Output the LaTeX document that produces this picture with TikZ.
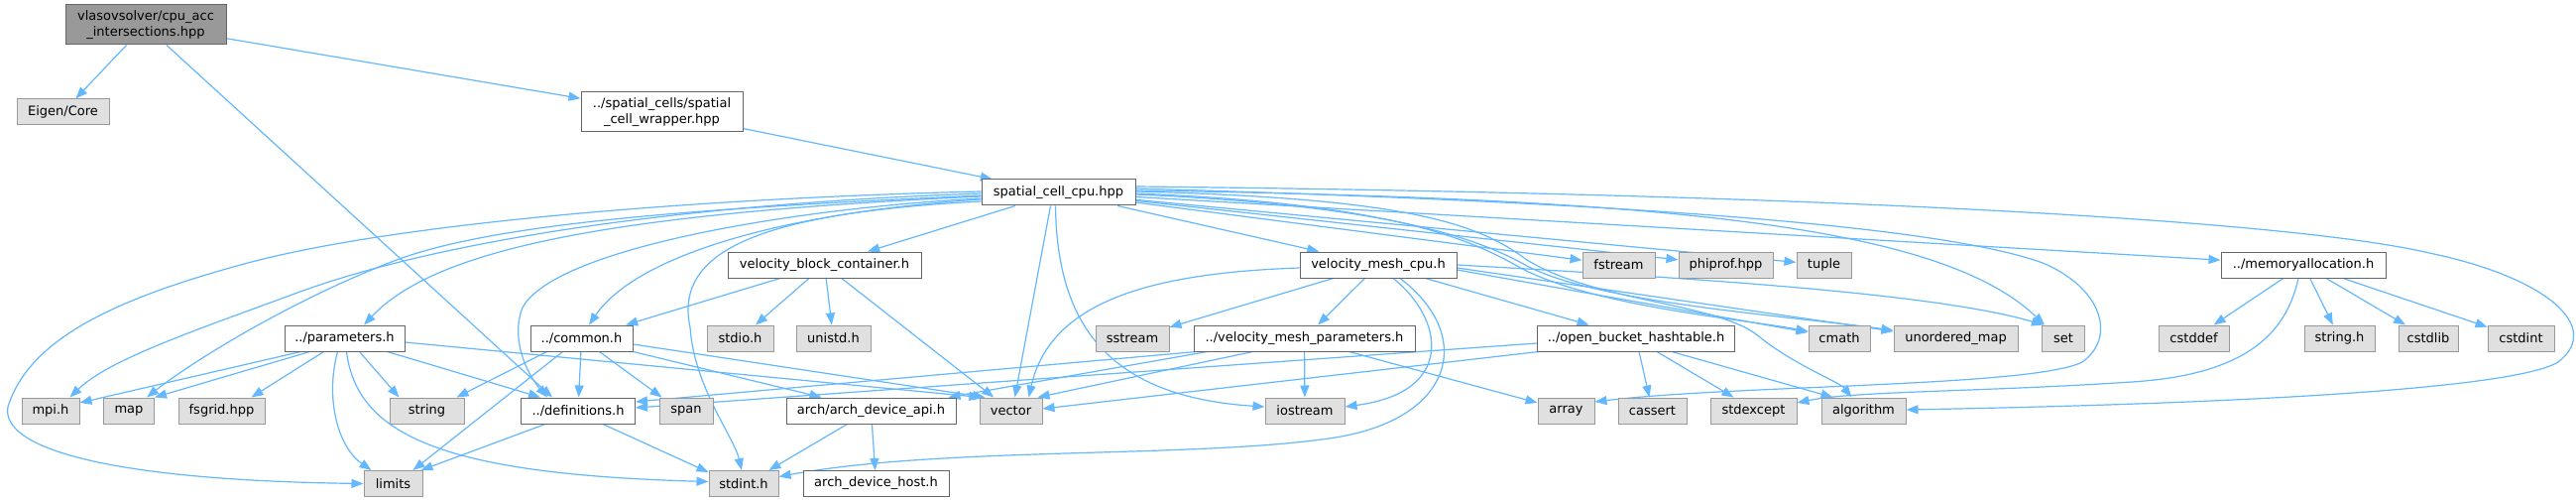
\documentclass[tikz,border=0pt]{standalone}
\usepackage{fontspec}
\setmainfont{DejaVu Sans}
\usetikzlibrary{arrows.meta,calc}
\definecolor{edgeblue}{HTML}{63B8FF}
\definecolor{grayfill}{HTML}{E0E0E0}
\definecolor{grayline}{HTML}{999999}
\definecolor{darkline}{HTML}{666666}
\definecolor{rootfill}{HTML}{999999}
\pgfdeclarelayer{bg}
\pgfsetlayers{bg,main}
\begin{document}
\begin{tikzpicture}[x=1pt,y=-1pt,
  nbox/.style={draw, line width=1pt, minimum height=26pt, inner sep=0pt,
    font=\fontsize{13}{15.5}\selectfont, align=center},
  extbox/.style={nbox, fill=grayfill, draw=grayline},
  intbox/.style={nbox, fill=white, draw=darkline},
  rootbox/.style={nbox, fill=rootfill, draw=darkline, minimum height=40pt},
  dep/.style={draw=edgeblue, line width=1.2pt, -{Triangle[length=12pt,width=9pt]}}]
\useasboundingbox (0,0) rectangle (2598,505);
% row 1-3
\node[rootbox, minimum width=162pt] (root) at (147,25) {vlasovsolver/cpu\_acc\\\_intersections.hpp};
\node[extbox, minimum width=93pt] (eigen) at (63.5,113) {Eigen/Core};
\node[intbox, minimum width=163pt, minimum height=40pt] (wrapper) at (667.5,113) {../spatial\_cells/spatial\\\_cell\_wrapper.hpp};
\node[intbox, minimum width=155pt] (cpu) at (1067.5,194) {spatial\_cell\_cpu.hpp};
% row 4
\node[intbox, minimum width=195pt] (vbc) at (831.5,267) {velocity\_block\_container.h};
\node[intbox, minimum width=158pt] (vmcpu) at (1390,267) {velocity\_mesh\_cpu.h};
\node[extbox, minimum width=73pt] (fstream) at (1632.5,267) {fstream};
\node[extbox, minimum width=95pt] (phiprof) at (1740.5,267) {phiprof.hpp};
\node[extbox, minimum width=55pt] (tuple) at (1839.5,267) {tuple};
\node[intbox, minimum width=166pt] (memalloc) at (2323,267) {../memoryallocation.h};
% row 5
\node[intbox, minimum width=121pt] (params) at (347.5,341) {../parameters.h};
\node[intbox, minimum width=103pt] (common) at (586.5,341) {../common.h};
\node[extbox, minimum width=67pt] (stdio) at (746.5,341) {stdio.h};
\node[extbox, minimum width=75pt] (unistd) at (840.5,341) {unistd.h};
\node[extbox, minimum width=74pt] (sstream) at (1142,341) {sstream};
\node[intbox, minimum width=223pt] (vmp) at (1315.5,341) {../velocity\_mesh\_parameters.h};
\node[intbox, minimum width=199pt] (ob) at (1650,341) {../open\_bucket\_hashtable.h};
\node[extbox, minimum width=62pt] (cmath) at (1855,341) {cmath};
\node[extbox, minimum width=125pt] (umap) at (1972.5,341) {unordered\_map};
\node[extbox, minimum width=43pt] (setn) at (2081,341) {set};
\node[extbox, minimum width=71pt] (cstddef) at (2212.5,341) {cstddef};
\node[extbox, minimum width=71pt] (stringh) at (2359.5,341) {string.h};
\node[extbox, minimum width=60pt] (cstdlib) at (2449,341) {cstdlib};
\node[extbox, minimum width=67pt] (cstdint) at (2542.5,341) {cstdint};
% row 6
\node[extbox, minimum width=58pt] (mpi) at (51,414) {mpi.h};
\node[extbox, minimum width=51pt] (mapn) at (130,414) {map};
\node[extbox, minimum width=87pt] (fsgrid) at (223.5,414) {fsgrid.hpp};
\node[extbox, minimum width=75pt] (strn) at (430.5,414) {string};
\node[intbox, minimum width=115pt] (defs) at (583,414) {../definitions.h};
\node[extbox, minimum width=54pt] (span) at (692,414) {span};
\node[intbox, minimum width=171pt] (archapi) at (878.5,414) {arch/arch\_device\_api.h};
\node[extbox, minimum width=63pt] (vecn) at (1019.5,414) {vector};
\node[extbox, minimum width=80pt] (iostream) at (1316,414) {iostream};
\node[extbox, minimum width=57pt] (arr) at (1579.5,414) {array};
\node[extbox, minimum width=69pt] (cassert) at (1666.5,414) {cassert};
\node[extbox, minimum width=87pt] (stdexcept) at (1768.5,414) {stdexcept};
\node[extbox, minimum width=85pt] (algorithm) at (1879.5,414) {algorithm};
% row 7
\node[extbox, minimum width=59pt] (limits) at (396.5,487.5) {limits};
\node[extbox, minimum width=70pt] (stdint) at (750,487.5) {stdint.h};
\node[intbox, minimum width=147pt] (archhost) at (883.5,487.5) {arch\_device\_host.h};

\begin{pgfonlayer}{bg}
\fill[white] (0,0) rectangle (2598,505);
% root
\draw[dep] (root) -- (eigen);
\draw[dep] (root) -- (wrapper);
\draw[dep] ($(root.south)+(21,0)$) -- ($(defs.north)+(-26,0)$);
\draw[dep] (wrapper) -- (cpu);
% cpu straight
\draw[dep] (cpu) -- (vbc);
\draw[dep] (cpu) -- (vmcpu);
\draw[dep] (cpu) -- (fstream);
\draw[dep] (cpu) -- (phiprof);
\draw[dep] (cpu) -- (tuple);
\draw[dep] (cpu) -- (memalloc);
\draw[dep] ($(cpu.south)+(-8,0)$) -- ($(vecn.north)+(4,0)$);
\draw[dep] ($(cpu.south)+(-3,0)$) .. controls (1066,330) and (1120,400) .. ($(iostream.west)+(0,-4)$);
% cpu left curves
\draw[dep] ($(cpu.west)+(0,-1)$) .. controls (700,200) and (400,225) .. (250,265) .. controls (120,300) and (30,340) .. (8,410) .. controls (0,452) and (110,484) .. (limits.west);
\draw[dep] ($(cpu.west)+(0,1)$) .. controls (700,205) and (450,240) .. (300,295) .. controls (200,332) and (110,362) .. ($(mpi.north east)+(-10,0)$);
\draw[dep] ($(cpu.west)+(0,3)$) .. controls (700,210) and (500,225) .. (400,262) .. controls (300,300) and (200,360) .. ($(mapn.north east)+(-8,0)$);
\draw[dep] ($(cpu.west)+(0,4)$) .. controls (620,215) and (440,250) .. ($(params.north)+(19.5,0)$);
\draw[dep] ($(cpu.west)+(0,6)$) .. controls (800,210) and (560,250) .. (527,310) .. controls (515,340) and (530,375) .. ($(defs.north west)+(27,0)$);
\draw[dep] ($(cpu.west)+(0,7)$) .. controls (780,215) and (640,260) .. ($(common.north)+(7.5,0)$);
\draw[dep] ($(cpu.west)+(0,9)$) .. controls (760,215) and (680,255) .. (696,330) .. controls (700,390) and (740,440) .. ($(stdint.north)+(-2,0)$);
% cpu right curves
\draw[dep] ($(cpu.east)+(0,-6)$) .. controls (1800,195) and (2300,220) .. (2450,255) .. controls (2570,280) and (2625,330) .. (2580,365) .. controls (2530,395) and (2200,408) .. ($(algorithm.east)+(0,-1)$);
\draw[dep] ($(cpu.east)+(0,-4)$) .. controls (1600,203) and (1950,225) .. (2060,265) .. controls (2120,290) and (2135,340) .. (2100,365) .. controls (2050,390) and (1750,388) .. ($(arr.east)+(0,-9)$);
\draw[dep] ($(cpu.east)+(0,-2)$) .. controls (1700,200) and (1960,230) .. ($(setn.north west)+(3,0)$);
\draw[dep] ($(cpu.east)+(0,1)$) .. controls (1400,205) and (1480,240) .. (1530,268) .. controls (1600,308) and (1760,322) .. ($(cmath.west)+(0,-7)$);
\draw[dep] ($(cpu.east)+(0,2)$) .. controls (1400,207) and (1490,240) .. (1540,268) .. controls (1610,305) and (1800,318) .. ($(umap.west)+(0,-8)$);
\draw[dep] ($(cpu.east)+(0,-1)$) .. controls (1420,200) and (1490,225) .. (1540,262) .. controls (1610,305) and (1735,305) .. (1775,340) .. controls (1810,368) and (1855,385) .. ($(algorithm.north)+(-12,0)$);
% velocity_block_container
\draw[dep] (vbc) -- (common);
\draw[dep] (vbc) -- (stdio);
\draw[dep] (vbc) -- (unistd);
\draw[dep] (vbc) -- (vecn);
% velocity_mesh_cpu
\draw[dep] (vmcpu) -- (sstream);
\draw[dep] (vmcpu) -- (vmp);
\draw[dep] (vmcpu) -- (ob);
\draw[dep] ($(vmcpu.west)+(0,3)$) .. controls (1170,275) and (1060,300) .. ($(vecn.north east)+(-14,0)$);
\draw[dep] ($(vmcpu.south)+(15,0)$) .. controls (1455,320) and (1470,395) .. ($(iostream.east)+(0,-4)$);
\draw[dep] ($(vmcpu.south)+(22,0)$) .. controls (1490,340) and (1465,425) .. (1340,442) .. controls (1200,462) and (950,450) .. ($(stdint.east)+(0,-7)$);
\draw[dep] ($(vmcpu.east)+(0,5)$) -- ($(cmath.west)+(0,-6)$);
\draw[dep] ($(vmcpu.east)+(0,3)$) -- ($(umap.west)+(0,-7)$);
\draw[dep] (vmcpu.east) .. controls (1700,280) and (1950,295) .. ($(setn.north west)+(2,0)$);
% velocity_mesh_parameters
\draw[dep] ($(vmp.south west)+(3,0)$) -- ($(defs.east)+(0,-9)$);
\draw[dep] ($(vmp.south west)+(14,0)$) -- ($(archapi.north east)+(-8,0)$);
\draw[dep] ($(vmp.south west)+(60,0)$) -- ($(vecn.north east)+(-5,0)$);
\draw[dep] (vmp) -- (iostream);
\draw[dep] ($(vmp.south)+(45,0)$) -- ($(arr.west)+(0,-8)$);
% open_bucket_hashtable
\draw[dep] ($(ob.west)+(0,5)$) -- ($(defs.east)+(0,-3)$);
\draw[dep] ($(ob.south west)+(2,0)$) -- ($(vecn.east)+(0,-2)$);
\draw[dep] (ob) -- (cassert);
\draw[dep] ($(ob.south)+(21,0)$) -- ($(stdexcept.north)+(-20,0)$);
\draw[dep] ($(ob.south)+(36,0)$) -- ($(algorithm.north west)+(12,0)$);
% memoryallocation
\draw[dep] (memalloc) -- (cstddef);
\draw[dep] (memalloc) -- (stringh);
\draw[dep] (memalloc) -- (cstdlib);
\draw[dep] (memalloc) -- (cstdint);
\draw[dep] ($(memalloc.south)+(-5,0)$) .. controls (2305,340) and (2260,378) .. (2150,385) .. controls (2000,395) and (1870,394) .. ($(stdexcept.east)+(0,-8)$);
% parameters
\draw[dep] ($(params.south west)+(17,0)$) -- ($(mpi.east)+(0,-8)$);
\draw[dep] ($(params.south west)+(26,0)$) -- (mapn.north east);
\draw[dep] ($(params.south west)+(40,0)$) -- ($(fsgrid.north east)+(-14,0)$);
\draw[dep] ($(params.south)+(15,0)$) -- ($(strn.north)+(-28,0)$);
\draw[dep] ($(params.south east)+(-18,0)$) -- ($(defs.north west)+(20,0)$);
\draw[dep] ($(params.south)+(-7,0)$) .. controls (328,400) and (340,450) .. ($(limits.north west)+(8,0)$);
\draw[dep] ($(params.south)+(2,0)$) .. controls (360,440) and (450,478) .. ($(stdint.west)+(0,-2)$);
\draw[dep] ($(params.east)+(0,4)$) -- ($(vecn.north west)+(2,0)$);
% common
\draw[dep] ($(common.south west)+(17,0)$) -- ($(strn.north east)+(-8,0)$);
\draw[dep] (common) -- (defs);
\draw[dep] ($(common.south)+(18,0)$) -- ($(span.north west)+(3,0)$);
\draw[dep] ($(common.south)+(-19,0)$) -- ($(limits.north east)+(-10,0)$);
\draw[dep] (common.south east) -- ($(archapi.north west)+(36,0)$);
\draw[dep] ($(common.east)+(0,6)$) -- ($(vecn.north west)+(6,0)$);
% definitions
\draw[dep] ($(defs.south west)+(25,0)$) -- ($(limits.north east)+(-2,0)$);
\draw[dep] ($(defs.south)+(25,0)$) -- ($(stdint.north west)+(0,2)$);
% arch_device_api
\draw[dep] ($(archapi.south west)+(62,0)$) -- ($(stdint.north east)+(-10,0)$);
\draw[dep] (archapi) -- (archhost);
\end{pgfonlayer}
\end{tikzpicture}
\end{document}
